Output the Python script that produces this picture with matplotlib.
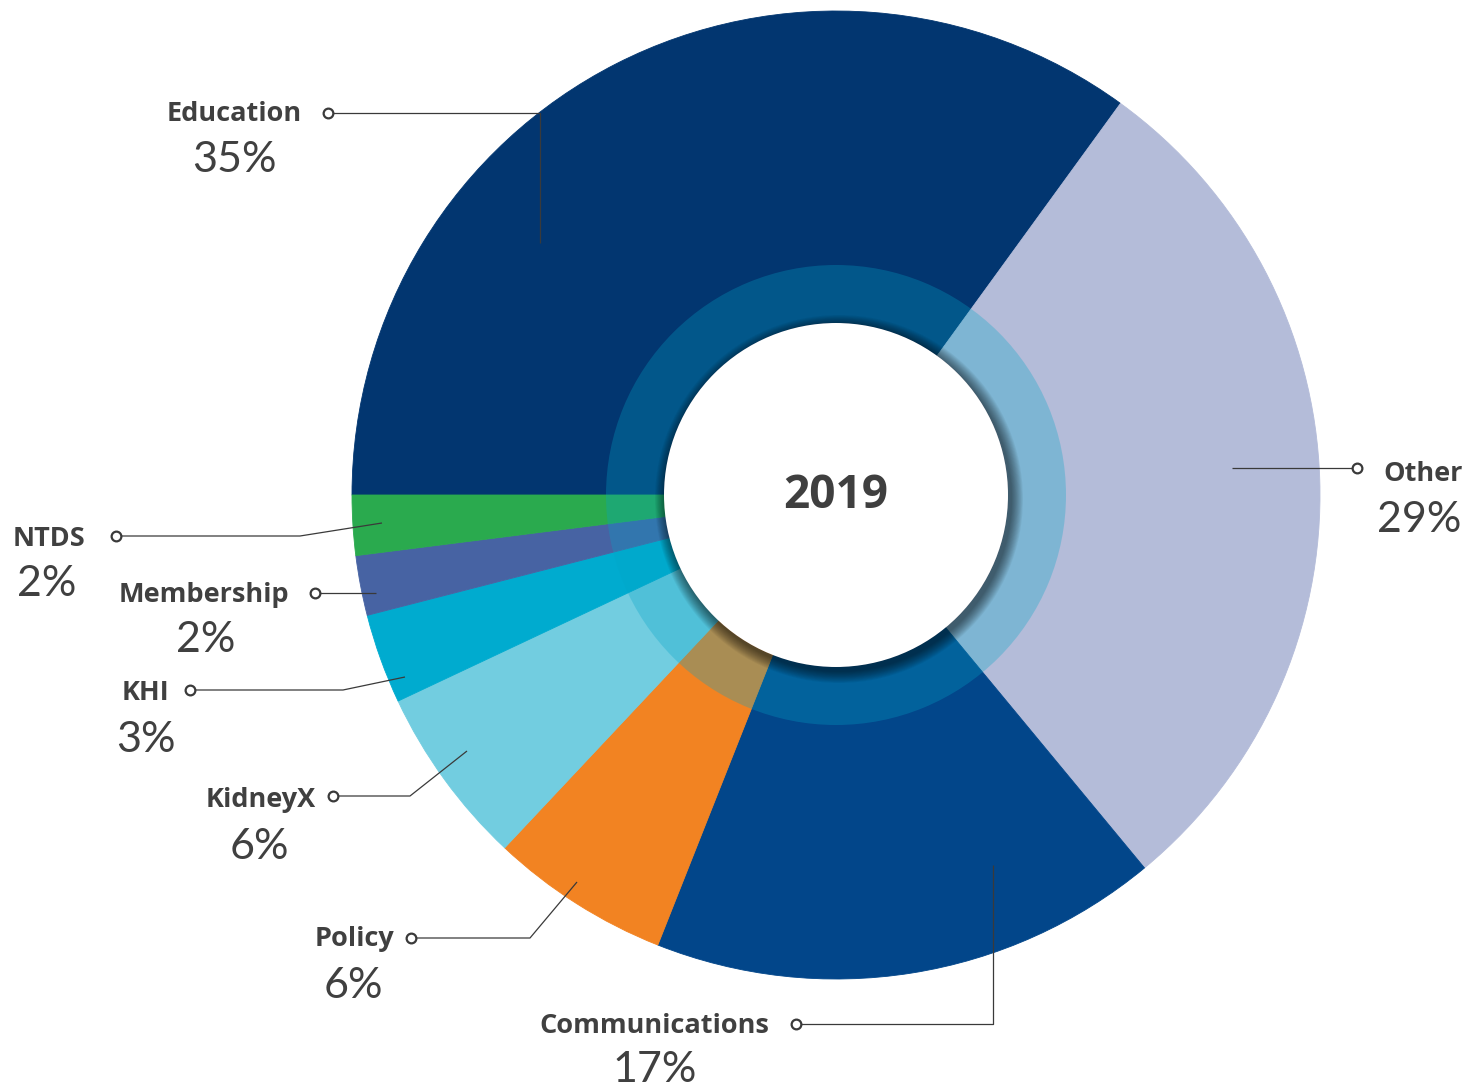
import matplotlib
matplotlib.use("Agg")
import matplotlib.pyplot as plt
from matplotlib.patches import Circle, Wedge

# data
categories = ["Education", "Other", "Communications", "Policy", "KidneyX", "KHI", "Membership", "NTDS"]
shares = [35, 29, 17, 6, 6, 3, 2, 2]
colors = ["#023670", "#B4BCD9", "#02468A", "#F28322", "#72CDE0", "#00ABCF", "#4763A3", "#2AAA4E"]
center_label = "2019"

W, H = 1477, 1088
CX, CY = 836, 495          # pixel position of donut centre (y down)
R_OUT, R_RING, R_HOLE = 484, 230, 172

# label layout in pixel coords (y down):
# name right edge / name y / pct centre x / pct y / leader path
layout = {
    "Education":      dict(nx=302, ny=114, px=234, py=160, path=[(328, 113), (540, 113), (540, 243)]),
    "Other":          dict(nx=1383, ny=474, px=1419, py=520, path=[(1357, 468), (1232, 468)], ha="left"),
    "Communications": dict(nx=769, ny=1026, px=655, py=1070, path=[(796, 1024), (993, 1024), (993, 865)]),
    "Policy":         dict(nx=394, ny=939, px=353, py=986, path=[(411, 938), (530, 938), (577, 882)]),
    "KidneyX":        dict(nx=316, ny=800, px=259, py=847, path=[(333, 796), (410, 796), (467, 751)]),
    "KHI":            dict(nx=169, ny=693, px=146, py=740, path=[(190, 690), (343, 690), (405, 677)]),
    "Membership":     dict(nx=289, ny=595, px=206, py=640, path=[(315, 593), (376, 593)]),
    "NTDS":           dict(nx=85, ny=539, px=47, py=584, path=[(116, 536), (300, 536), (382, 523)]),
}


def fy(y):
    return H - y


fig = plt.figure(figsize=(W / 100, H / 100), dpi=100)
ax = fig.add_axes([0, 0, 1, 1])

wedges, _ = ax.pie(shares, colors=colors, startangle=180, counterclock=False,
                   radius=R_OUT, center=(CX, fy(CY)),
                   wedgeprops=dict(linewidth=0.6))
for w in wedges:
    w.set_edgecolor(w.get_facecolor())

# translucent inner ring
ax.add_patch(Wedge((CX, fy(CY)), R_RING, 0, 360, width=R_RING - R_HOLE,
                   facecolor="#03A5C8", alpha=0.3, linewidth=0))

# soft shadow under the white hole
for i in range(14):
    ax.add_patch(Circle((CX + 3, fy(CY) - 4), R_HOLE + 12 - i * 0.85,
                        facecolor="black", alpha=0.045, linewidth=0))
ax.add_patch(Circle((CX, fy(CY)), R_HOLE, facecolor="white", linewidth=0))

ax.text(CX, fy(CY + 1), center_label, ha="center", va="center",
        fontsize=33, fontweight="bold", color="#3f3f3f", family="Open Sans")

text_color = "#404040"
for name, val in zip(categories, shares):
    lay = layout[name]
    xs = [p[0] for p in lay["path"]]
    ys = [fy(p[1]) for p in lay["path"]]
    ax.plot(xs, ys, color="#3a3a3a", linewidth=0.9, solid_capstyle="butt", zorder=5)
    ax.plot(xs[0], ys[0], marker="o", markersize=7, markerfacecolor="white",
            markeredgecolor="#3a3a3a", markeredgewidth=1.6, zorder=6)
    ax.text(lay["nx"], fy(lay["ny"]), name, ha=lay.get("ha", "right"), va="center",
            fontsize=19.5, fontweight="bold", color=text_color, family="Open Sans")
    ax.text(lay["px"], fy(lay["py"]), f"{val}%", ha="center", va="center",
            fontsize=31, fontweight="normal", color=text_color, family="Lato")

ax.set_xlim(0, W)
ax.set_ylim(0, H)
ax.set_aspect("equal")
ax.axis("off")

fig.savefig("out.png", dpi=100)
